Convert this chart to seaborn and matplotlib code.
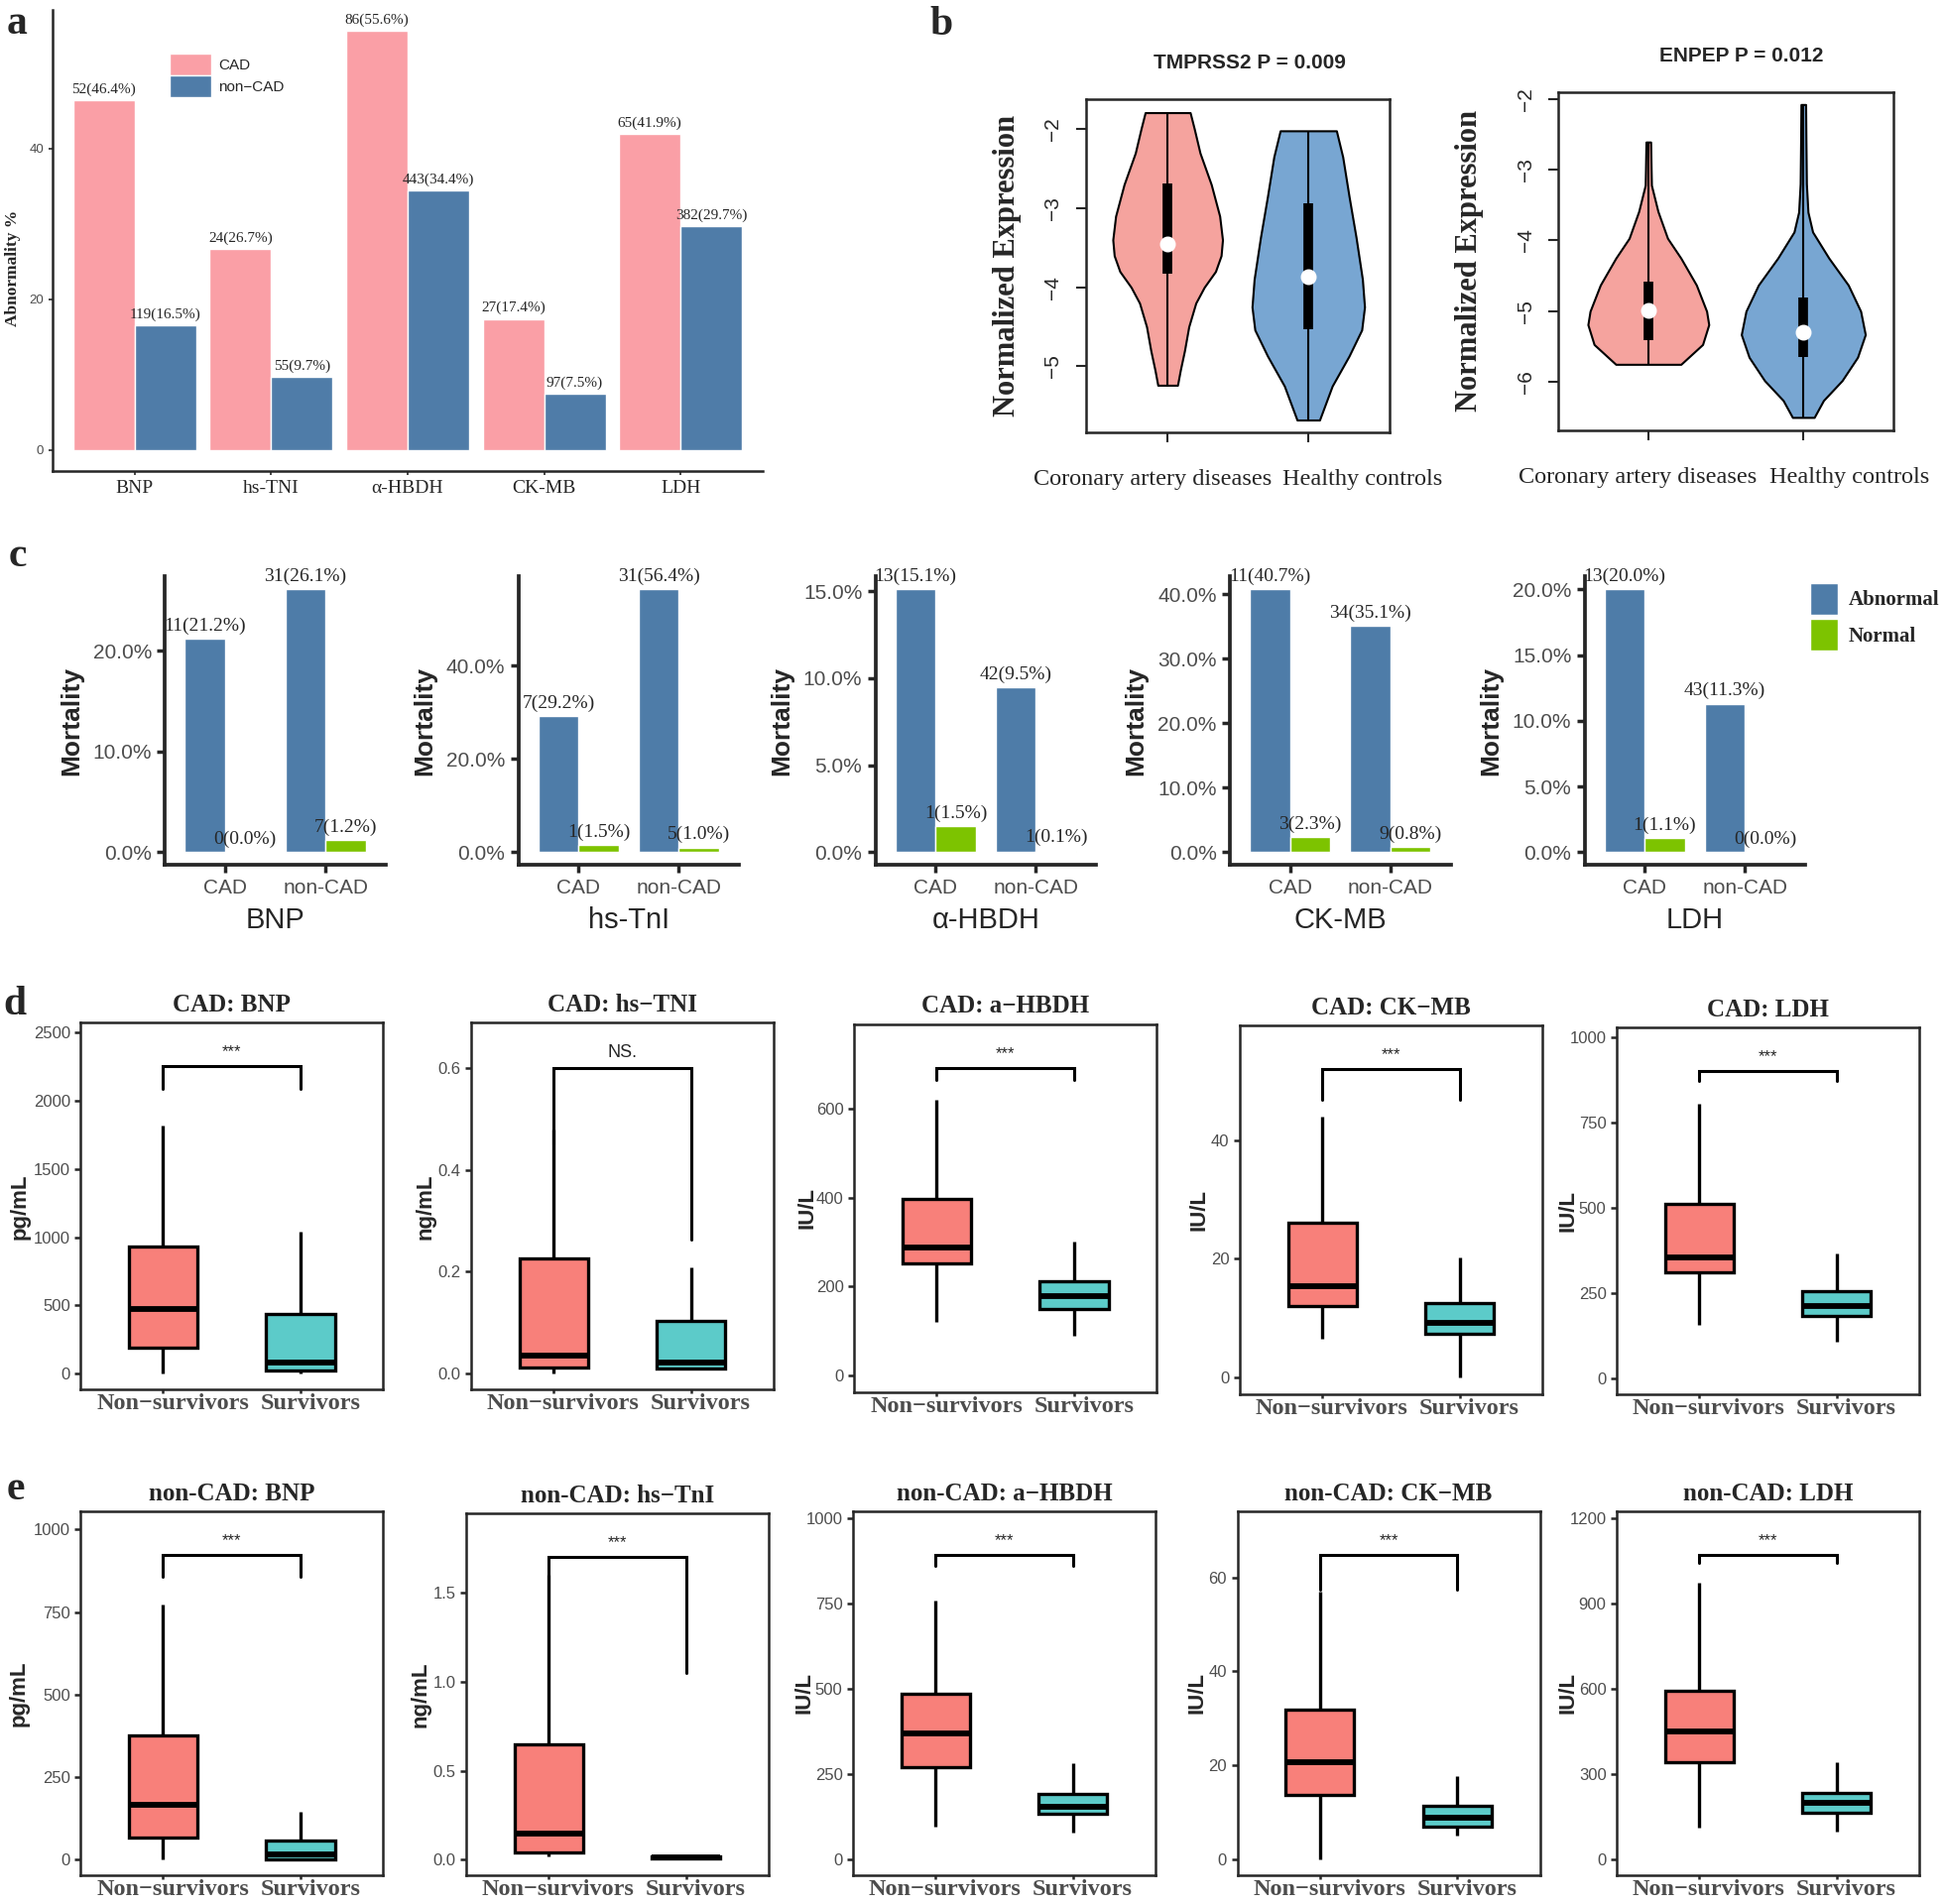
import numpy as np
import pandas as pd
import matplotlib
matplotlib.use("Agg")
import matplotlib.pyplot as plt
import seaborn as sns
from matplotlib.ticker import FuncFormatter
from matplotlib.transforms import ScaledTranslation

SERIF = ["Liberation Serif", "DejaVu Serif"]
SANS = ["Liberation Sans", "DejaVu Sans"]
GREY = "#4D4D4D"

# ---- panel a: abnormality rate
a_markers = ["BNP", "hs-TNI", "α-HBDH", "CK-MB", "LDH"]
a_groups = ["CAD", "non−CAD"]
a_cad_n = [52, 24, 86, 27, 65]
a_cad_pct = [46.4, 26.7, 55.6, 17.4, 41.9]
a_non_n = [119, 55, 443, 97, 382]
a_non_pct = [16.5, 9.7, 34.4, 7.5, 29.7]
a_colors = ["#FA9FA6", "#4F7CA8"]

# ---- panel b: violin profiles (level, half width) and box stats [min, q1, med, q3, max]
b_titles = ["TMPRSS2 P = 0.009", "ENPEP P = 0.012"]
b_groups = ["Coronary artery diseases", "Healthy controls"]
b_colors = ["#F5A39E", "#78A6D2"]
tmprss2_cad_y = [-1.79, -2.0, -2.3, -2.7, -3.1, -3.4, -3.6, -3.8, -4.0, -4.2, -4.5, -4.8, -5.05, -5.24]
tmprss2_cad_w = [0.16, 0.19, 0.23, 0.31, 0.37, 0.39, 0.38, 0.34, 0.26, 0.20, 0.15, 0.12, 0.09, 0.07]
tmprss2_hc_y = [-2.02, -2.35, -2.85, -3.37, -3.9, -4.25, -4.54, -4.87, -5.25, -5.68]
tmprss2_hc_w = [0.20, 0.245, 0.29, 0.34, 0.385, 0.40, 0.38, 0.29, 0.17, 0.08]
enpep_cad_y = [-2.61, -3.0, -3.22, -3.59, -3.97, -4.25, -4.63, -5.0, -5.19, -5.47, -5.75]
enpep_cad_w = [0.015, 0.018, 0.02, 0.062, 0.124, 0.21, 0.31, 0.376, 0.39, 0.35, 0.21]
enpep_hc_y = [-2.08, -2.6, -3.2, -3.6, -3.88, -4.25, -4.63, -5.0, -5.33, -5.65, -5.98, -6.26, -6.5]
enpep_hc_w = [0.015, 0.017, 0.02, 0.03, 0.06, 0.165, 0.29, 0.37, 0.40, 0.35, 0.25, 0.13, 0.07]
tmprss2_stats = [[-5.24, -3.83, -3.45, -2.69, -1.79], [-5.68, -4.53, -3.87, -2.94, -2.02]]
enpep_stats = [[-5.75, -5.41, -4.99, -4.58, -2.61], [-6.50, -5.64, -5.29, -4.80, -2.08]]
b_ticks = [[-5, -4, -3, -2], [-6, -5, -4, -3, -2]]
b_ylims = [(-5.84, -1.62), (-6.68, -1.90)]

# ---- panel c: mortality by abnormal / normal
c_markers = ["BNP", "hs-TnI", "α-HBDH", "CK-MB", "LDH"]
c_groups = ["CAD", "non-CAD"]
c_status = ["Abnormal", "Normal"]
c_abn_cad_n = [11, 7, 13, 11, 13]
c_abn_cad_pct = [21.2, 29.2, 15.1, 40.7, 20.0]
c_abn_non_n = [31, 31, 42, 34, 43]
c_abn_non_pct = [26.1, 56.4, 9.5, 35.1, 11.3]
c_nor_cad_n = [0, 1, 1, 3, 1]
c_nor_cad_pct = [0.0, 1.5, 1.5, 2.3, 1.1]
c_nor_non_n = [7, 5, 1, 9, 0]
c_nor_non_pct = [1.2, 1.0, 0.1, 0.8, 0.0]
c_ticks = [[0, 10, 20], [0, 20, 40], [0, 5, 10, 15], [0, 10, 20, 30, 40], [0, 5, 10, 15, 20]]
c_colors = ["#4E7CA8", "#7DC300"]

# ---- panels d / e: five-number summaries [min, q1, median, q3, max]
box_groups = ["Non−survivors", "Survivors"]
box_colors = ["#F8807A", "#5CCBC9"]
d_titles = ["CAD: BNP", "CAD: hs−TNI", "CAD: a−HBDH", "CAD: CK−MB", "CAD: LDH"]
d_units = ["pg/mL", "ng/mL", "IU/L", "IU/L", "IU/L"]
d_nonsurv = [
    [0, 191, 471, 935, 1816],
    [0.0, 0.012, 0.034, 0.226, 0.48],
    [120, 251, 288, 396, 619],
    [6.6, 12.0, 15.4, 26.0, 44.0],
    [156, 310, 354, 513, 806],
]
d_surv = [
    [5, 22, 82, 440, 1043],
    [0.009, 0.010, 0.022, 0.104, 0.209],
    [90, 150, 178, 211, 300],
    [0.0, 7.4, 9.2, 12.6, 20.2],
    [109, 182, 212, 255, 366],
]
d_sig = ["***", "NS.", "***", "***", "***"]
d_bracket = [2251, 0.601, 690, 51.9, 900]
d_leg_left = [2089, 0.45, 665, 46.8, 872]
d_leg_right = [2089, 0.264, 665, 46.8, 872]
d_ylims = [(-116, 2572), (-0.032, 0.690), (-37, 790), (-2.8, 59.3), (-47, 1028)]
d_ticks = [[0, 500, 1000, 1500, 2000, 2500], [0.0, 0.2, 0.4, 0.6], [0, 200, 400, 600],
           [0, 20, 40], [0, 250, 500, 750, 1000]]

e_titles = ["non-CAD: BNP", "non-CAD: hs−TnI", "non-CAD: a−HBDH", "non-CAD: CK−MB", "non-CAD: LDH"]
e_units = ["pg/mL", "ng/mL", "IU/L", "IU/L", "IU/L"]
e_nonsurv = [
    [0, 67, 165, 376, 774],
    [0.016, 0.042, 0.145, 0.648, 1.6],
    [94, 269, 369, 485, 760],
    [0.0, 13.7, 20.7, 31.8, 57.0],
    [109, 340, 449, 591, 971],
]
e_surv = [
    [0, 1, 14, 57, 145],
    [0.0, 0.005, 0.01, 0.015, 0.02],
    [77, 134, 155, 192, 283],
    [5.0, 6.8, 8.7, 11.3, 17.6],
    [98, 163, 196, 234, 340],
]
e_sig = ["***", "***", "***", "***", "***"]
e_bracket = [923, 1.705, 893, 64.7, 1071]
e_leg_left = [856, 1.6, 861, 57.4, 1040]
e_leg_right = [856, 1.049, 861, 57.4, 1040]
e_ylims = [(-49, 1056), (-0.09, 1.947), (-48, 1022), (-3.5, 74.1), (-58, 1224)]
e_ticks = [[0, 250, 500, 750, 1000], [0.0, 0.5, 1.0, 1.5], [0, 250, 500, 750, 1000],
           [0, 20, 40, 60], [0, 300, 600, 900, 1200]]

W, H = 1960, 1920
S = 1.25  # preview px -> output px


def place(fig, x0, y0, x1, y1):
    return fig.add_axes([x0 * S / W, 1 - y1 * S / H, (x1 - x0) * S / W, (y1 - y0) * S / H])


def draw_a(fig):
    ax = place(fig, 42.6, 8, 615, 380)
    df = pd.DataFrame({
        "marker": a_markers * 2,
        "group": [a_groups[0]] * 5 + [a_groups[1]] * 5,
        "pct": a_cad_pct + a_non_pct,
    })
    sns.barplot(data=df, x="marker", y="pct", hue="group", order=a_markers,
                hue_order=a_groups, palette=a_colors, width=0.9, saturation=1,
                errorbar=None, ax=ax)
    for cont, ns, ps in zip(ax.containers, [a_cad_n, a_non_n], [a_cad_pct, a_non_pct]):
        ax.bar_label(cont, labels=[f"{n}({p:.1f}%)" for n, p in zip(ns, ps)],
                     padding=3, fontsize=11, family=SERIF)
    ax.set_xlim(-0.6, 4.6)
    ax.set_ylim(-2.78, 58.38)
    ax.set_yticks([0, 20, 40])
    ax.set_xlabel("")
    ax.set_ylabel("Abnormality %", fontsize=12.5, fontweight="bold", family=SERIF)
    ax.yaxis.set_label_coords(-0.045, 0.44)
    ax.tick_params(axis="y", labelsize=9.5, labelcolor=GREY, length=3, width=1.2)
    ax.tick_params(axis="x", labelsize=14, length=3, width=1.2)
    for t in ax.get_xticklabels():
        t.set_family(SERIF)
    sns.despine(ax=ax)
    for s in ["left", "bottom"]:
        ax.spines[s].set_linewidth(1.8)
    h, l = ax.get_legend_handles_labels()
    ax.legend(h, l, loc="upper left", bbox_to_anchor=(0.165, 0.905), frameon=False,
              borderpad=0, borderaxespad=0, handlelength=2.75, handleheight=1.83,
              labelspacing=0, handletextpad=0.45, prop={"family": SANS, "size": 11})


def draw_b(fig):
    boxes = [(876, 80, 1121, 349), (1257, 74, 1527, 347)]
    profiles = [
        [(tmprss2_cad_y, tmprss2_cad_w), (tmprss2_hc_y, tmprss2_hc_w)],
        [(enpep_cad_y, enpep_cad_w), (enpep_hc_y, enpep_hc_w)],
    ]
    stats = [tmprss2_stats, enpep_stats]
    label_x = [[0.22, 0.91], [0.237, 0.87]]
    title_x = [0.539, 0.548]
    ylab_x = [-0.212, -0.222]
    for k in range(2):
        ax = place(fig, *boxes[k])
        for j in range(2):
            pos = j + 1
            lev = np.array(profiles[k][j][0])
            half = np.array(profiles[k][j][1])
            ax.fill_betweenx(lev, pos - half, pos + half, facecolor=b_colors[j],
                             edgecolor="black", linewidth=1.5)
            st = stats[k][j]
            ax.vlines(pos, st[0], st[4], color="black", linewidth=1.5)
            ax.vlines(pos, st[1], st[3], color="black", linewidth=7)
            ax.scatter([pos], [st[2]], s=110, color="white", zorder=5)
            ax.text(label_x[k][j], -0.14, b_groups[j], transform=ax.transAxes,
                    ha="center", va="center", fontsize=17.5, family=SERIF)
        ax.set_xlim(0.42, 2.58)
        ax.set_ylim(*b_ylims[k])
        ax.set_xticks([1, 2])
        ax.set_xticklabels([])
        ax.set_yticks(b_ticks[k])
        ax.set_yticklabels([f"{v:d}".replace("-", "−") for v in b_ticks[k]],
                           rotation=90, va="center", fontsize=15, family=SANS)
        ax.tick_params(axis="both", direction="out", length=7, width=1.5)
        ax.tick_params(axis="y", pad=10)
        for s in ax.spines.values():
            s.set_linewidth(1.8)
        ax.set_title(b_titles[k], fontsize=15, fontweight="bold", family=SANS, pad=22,
                     x=title_x[k])
        ax.set_ylabel("Normalized Expression", fontsize=22, fontweight="bold", family=SERIF)
        ax.yaxis.set_label_coords(ylab_x[k], 0.5)


def draw_c(fig):
    lefts = [133, 418, 706, 992, 1278]
    pct_fmt = FuncFormatter(lambda v, p: f"{v:.1f}%")
    for i in range(5):
        ax = place(fig, lefts[i], 465, lefts[i] + 178, 698)
        df = pd.DataFrame({
            "group": c_groups * 2,
            "status": [c_status[0]] * 2 + [c_status[1]] * 2,
            "pct": [c_abn_cad_pct[i], c_abn_non_pct[i], c_nor_cad_pct[i], c_nor_non_pct[i]],
        })
        sns.barplot(data=df, x="group", y="pct", hue="status", order=c_groups,
                    hue_order=c_status, palette=c_colors, width=0.8, saturation=1,
                    errorbar=None, ax=ax, legend=(i == 4))
        counts = [[c_abn_cad_n[i], c_abn_non_n[i]], [c_nor_cad_n[i], c_nor_non_n[i]]]
        pcts = [[c_abn_cad_pct[i], c_abn_non_pct[i]], [c_nor_cad_pct[i], c_nor_non_pct[i]]]
        for cont, ns, ps in zip(ax.containers, counts, pcts):
            ax.bar_label(cont, labels=[f"{n}({p:.1f}%)" for n, p in zip(ns, ps)],
                         padding=3, fontsize=14, family=SERIF)
        top = max(df["pct"])
        ax.set_ylim(-0.05 * top, 1.05 * top)
        ax.set_xlim(-0.6, 1.6)
        ax.set_yticks(c_ticks[i])
        ax.yaxis.set_major_formatter(pct_fmt)
        ax.tick_params(axis="y", labelsize=15, labelcolor=GREY, length=6, width=2.5)
        ax.tick_params(axis="x", labelsize=15, labelcolor=GREY, length=6, width=2.5)
        for t in ax.get_xticklabels() + ax.get_yticklabels():
            t.set_family(SANS)
        ax.set_ylabel("Mortality", fontsize=19, fontweight="bold", family=SANS)
        ax.yaxis.set_label_coords(-0.37, 0.5)
        ax.set_xlabel(c_markers[i], fontsize=21, family=SANS, labelpad=7)
        sns.despine(ax=ax)
        for s in ["left", "bottom"]:
            ax.spines[s].set_linewidth(2.7)
        if i == 4:
            h, l = ax.get_legend_handles_labels()
            ax.get_legend().remove()
            fig.legend(h, l, loc="upper left",
                       bbox_to_anchor=(1460 * S / W, 1 - 470 * S / H),
                       frameon=False, borderpad=0, borderaxespad=0,
                       handlelength=1.32, handleheight=2.0, labelspacing=0.2,
                       handletextpad=0.54,
                       prop={"family": SERIF, "size": 15, "weight": "bold"})


def draw_box_row(fig, top, bottom, lefts, titles, units, nonsurv, surv, sig,
                 bracket, leg_left, leg_right, ylims, ticks, label_x):
    shift = ScaledTranslation(7 / 72, 0, fig.dpi_scale_trans)
    for i in range(5):
        ax = place(fig, lefts[i], top[i], lefts[i] + 244, bottom[i])
        df = pd.DataFrame({
            "group": [box_groups[0]] * 5 + [box_groups[1]] * 5,
            "value": nonsurv[i] + surv[i],
        })
        sns.boxplot(data=df, x="group", y="value", hue="group", order=box_groups,
                    hue_order=box_groups, palette=box_colors, saturation=1,
                    width=0.5, whis=(0, 100), linecolor="black", linewidth=2.4,
                    medianprops={"linewidth": 4.2}, capprops={"linewidth": 0},
                    legend=False, ax=ax)
        ax.plot([0, 0, 1, 1], [leg_left[i], bracket[i], bracket[i], leg_right[i]],
                color="black", linewidth=2.2, solid_joinstyle="miter")
        fs = 12 if sig[i] == "***" else 13
        ax.annotate(sig[i], (0.5, bracket[i]), xytext=(0, 5), textcoords="offset points",
                    ha="center", va="bottom", fontsize=fs, family=SANS)
        ax.set_xlim(-0.6, 1.6)
        ax.set_ylim(*ylims[i])
        ax.set_yticks(ticks[i])
        ax.set_xlabel("")
        ax.set_ylabel(units[i], fontsize=16, fontweight="bold", family=SANS)
        ax.yaxis.set_label_coords(label_x[i], 0.5)
        ax.set_title(titles[i], fontsize=18, fontweight="bold", family=SERIF, pad=8)
        ax.tick_params(axis="y", labelsize=12, labelcolor=GREY, length=4, width=1.8)
        ax.tick_params(axis="x", labelsize=17.5, labelcolor=GREY, length=3, width=1.8, pad=0)
        for t in ax.get_yticklabels():
            t.set_family(SANS)
        for t in ax.get_xticklabels():
            t.set_family(SERIF)
            t.set_fontweight("bold")
            t.set_transform(t.get_transform() + shift)
        for s in ax.spines.values():
            s.set_visible(True)
            s.set_linewidth(1.8)


def main():
    sns.set_style("ticks")
    plt.rcParams["font.family"] = SANS
    plt.rcParams["axes.unicode_minus"] = True

    fig = plt.figure(figsize=(W / 100, H / 100), dpi=100)

    draw_a(fig)
    draw_b(fig)
    draw_c(fig)
    draw_box_row(fig, [825, 825, 826, 827, 829], [1121, 1121, 1123, 1125, 1125],
                 [65, 380, 689, 1000, 1304], d_titles, d_units, d_nonsurv, d_surv,
                 d_sig, d_bracket, d_leg_left, d_leg_right, d_ylims, d_ticks,
                 [-0.165, -0.115, -0.12, -0.1, -0.125])
    draw_box_row(fig, [1219, 1221, 1219, 1219, 1219], [1513, 1513, 1513, 1513, 1513],
                 [65, 376, 688, 998, 1304], e_titles, e_units, e_nonsurv, e_surv,
                 e_sig, e_bracket, e_leg_left, e_leg_right, e_ylims, e_ticks,
                 [-0.168, -0.115, -0.125, -0.1, -0.125])

    letters = [("a", 5, 27), ("b", 750, 28), ("c", 7, 457), ("d", 3, 818), ("e", 5, 1210)]
    for txt, x, y in letters:
        fig.text(x * S / W, 1 - y * S / H, txt, fontsize=30, fontweight="bold",
                 family=SERIF, va="baseline", ha="left")

    fig.savefig("out.png", dpi=100)


if __name__ == "__main__":
    main()
